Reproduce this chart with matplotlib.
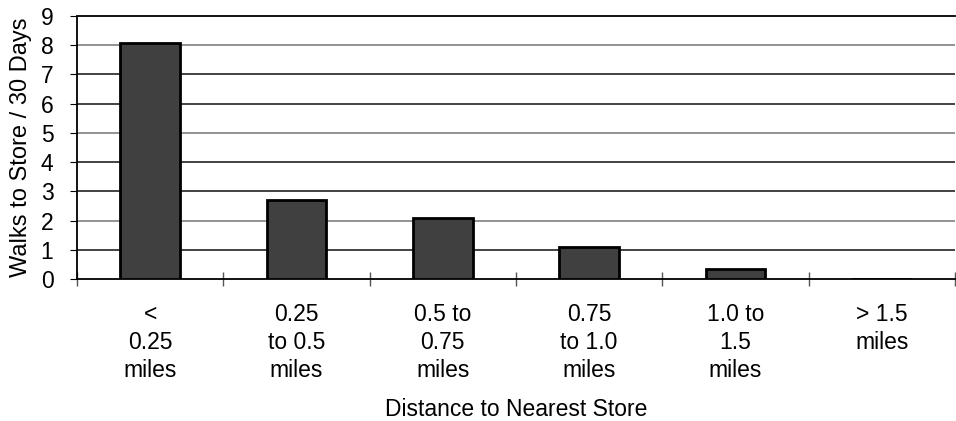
import matplotlib.pyplot as plt
import numpy as np

plt.rcParams['font.family'] = ['Liberation Sans', 'DejaVu Sans']

categories = ["<\n0.25\nmiles", "0.25\nto 0.5\nmiles", "0.5 to\n0.75\nmiles",
              "0.75\nto 1.0\nmiles", "1.0 to\n1.5\nmiles", "> 1.5\nmiles"]
walks = [8.08, 2.7, 2.08, 1.08, 0.33, 0.0]

fig = plt.figure(figsize=(9.56, 4.21), dpi=100)
ax = fig.add_axes([77 / 956, 1 - 279 / 421, (955 - 77) / 956, (279 - 16) / 421])

x = np.arange(len(categories))
ax.bar(x, walks, width=0.41, color="#404040", edgecolor="black", linewidth=2, zorder=3)

ax.set_xlim(-0.5, len(categories) - 0.5)
ax.set_ylim(0, 9)
ax.set_yticks(range(10))
for y in range(1, 9):
    ax.axhline(y, color="#808080" if y % 3 == 2 else "#222222", linewidth=1.2, zorder=1)

for side in ("top", "bottom", "left"):
    ax.spines[side].set_linestyle((0, (1, 1)))
    ax.spines[side].set_linewidth(1.3)
ax.spines["right"].set_visible(False)

ax.set_xticks(np.arange(len(categories) + 1) - 0.5, minor=True)
ax.set_xticks(x)
ax.set_xticklabels(categories, fontsize=16.5, linespacing=1.3, va="top")
ax.tick_params(axis="x", which="major", length=0, pad=17)
ax.tick_params(axis="x", which="minor", direction="inout", length=10, width=1, color="#555555")
ax.tick_params(axis="y", labelsize=16.5, length=5, pad=12)

ax.set_xlabel("Distance to Nearest Store", fontsize=16.5, labelpad=11)
ax.set_ylabel("Walks to Store / 30 Days", fontsize=17, labelpad=6)

fig.savefig("out.png", dpi=100)
